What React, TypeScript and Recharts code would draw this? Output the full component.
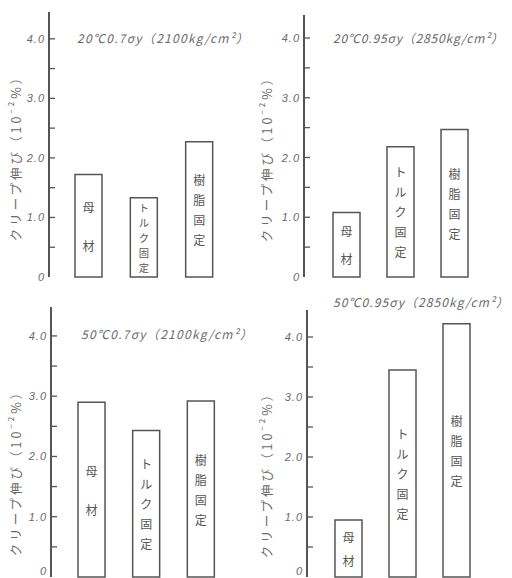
import { BarChart, Bar, XAxis, YAxis, LabelList, Customized } from "recharts";

// creep elongation (10^-2 %) per fixing method
const categories = ["母材", "トルク固定", "樹脂固定"];
const creep20c070 = [1.72, 1.33, 2.27];
const creep20c095 = [1.08, 2.18, 2.47];
const creep50c070 = [2.9, 2.43, 2.92];
const creep50c095 = [0.95, 3.45, 4.22];

const yTicks = [0, 0.5, 1, 1.5, 2, 2.5, 3, 3.5, 4];
const yTickLabels: Record<number, string> = { 0: "0", 1: "1.0", 2: "2.0", 3: "3.0", 4: "4.0" };

const titles = [
  "20℃0.7σy（2100kg/cm²）",
  "20℃0.95σy（2850kg/cm²）",
  "50℃0.7σy（2100kg/cm²）",
  "50℃0.95σy（2850kg/cm²）",
];
const yLabelMain = "クリープ伸び（10";
const yLabelSup = "−2";
const yLabelTail = "%）";

const INK = "#555";
const TEXT = "#6a6a6a";
const JP = "'Noto Sans CJK JP', 'Noto Sans', sans-serif";

const panels = [
  {
    values: creep20c070, title: titles[0],
    left: 0, top: 0, width: 256, height: 290,
    margin: { top: 12, right: 28, left: 0, bottom: 13 }, yWidth: 49, yMax: 4.45,
    pad: { left: 12, right: 1 },
    titleX: 77, titleY: 43, titleW: 171, labelX: 15, labelY: 155,
  },
  {
    values: creep20c095, title: titles[1],
    left: 256, top: 0, width: 256, height: 290,
    margin: { top: 15, right: 18, left: 0, bottom: 13 }, yWidth: 48, yMax: 4.385,
    pad: { left: 15, right: 13 },
    titleX: 77, titleY: 43, titleW: 170, labelX: 10, labelY: 156,
  },
  {
    values: creep50c070, title: titles[2],
    left: 0, top: 290, width: 256, height: 288,
    margin: { top: 17, right: 27, left: 0, bottom: 1 }, yWidth: 51, yMax: 4.48,
    pad: { left: 13, right: 1 },
    titleX: 81, titleY: 49, titleW: 171, labelX: 15, labelY: 180,
  },
  {
    values: creep50c095, title: titles[3],
    left: 256, top: 290, width: 256, height: 288,
    margin: { top: 20, right: 18, left: 0, bottom: 1 }, yWidth: 51, yMax: 4.45,
    pad: { left: 14, right: 11 },
    titleX: 77, titleY: 17, titleW: 175, labelX: 10, labelY: 182,
  },
];

function makeTick(chartHeight: number) {
  return function YTick(props: any) {
    const { x, y, payload } = props;
    const label = yTickLabels[payload.value];
    // keep the "0" inside the picture on the lower panels
    const ty = Math.min(y, chartHeight - 7);
    return (
      <g>
        {payload.value !== 0 && <line x1={x} x2={x + 6} y1={y} y2={y} stroke={INK} strokeWidth={1.3} />}
        {label && (
          <text x={x - 4} y={ty} textAnchor="end" dominantBaseline="central" fontSize={11}
            fontStyle="italic" fontFamily="'Liberation Sans', sans-serif" fill={TEXT} letterSpacing={1}>
            {label}
          </text>
        )}
      </g>
    );
  };
}

function StackedLabel(props: any) {
  const { x, y, width, height, value } = props;
  const chars = Array.from(String(value));
  const n = chars.length;
  const gap = Math.min(n === 2 ? 39 : 20, height / (n + 0.3));
  const size = Math.min(12, gap / 1.45);
  const cx = x + width / 2;
  const cy = y + height / 2;
  return (
    <g>
      {chars.map((c, i) => (
        <text key={i} x={cx} y={cy + (i - (n - 1) / 2) * gap} textAnchor="middle"
          dominantBaseline="central" fontSize={size} fontFamily={JP} fill={INK}>
          {c}
        </text>
      ))}
    </g>
  );
}

function Panel({ p }: { p: (typeof panels)[number] }) {
  const data = categories.map((name, i) => ({ name, value: p.values[i] }));
  return (
    <div style={{ position: "absolute", left: p.left, top: p.top }}>
      <BarChart width={p.width} height={p.height} data={data} margin={p.margin}>
        <XAxis dataKey="name" height={0} tick={false} tickLine={false} padding={p.pad}
          axisLine={{ stroke: INK, strokeWidth: 1.5 }} />
        <YAxis width={p.yWidth} domain={[0, p.yMax]} ticks={yTicks} tick={makeTick(p.height)}
          tickLine={false} tickSize={0} tickMargin={0} interval={0}
          axisLine={{ stroke: INK, strokeWidth: 2 }} />
        <Bar dataKey="value" barSize={27} fill="#fff" stroke={INK} strokeWidth={1.5}
          isAnimationActive={false}>
          <LabelList dataKey="name" content={StackedLabel} />
        </Bar>
        <Customized
          component={() => (
            <g>
              <text x={p.titleX} y={p.titleY} textLength={p.titleW} lengthAdjust="spacing"
                fontSize={12} fontStyle="italic" fontFamily={JP} fill={TEXT}>
                {p.title}
              </text>
              <text transform={`translate(${p.labelX},${p.labelY}) rotate(-90)`} textAnchor="middle"
                dominantBaseline="central" fontSize={12.5} fontFamily={JP} fill={TEXT} letterSpacing={3}>
                {yLabelMain}
                <tspan fontSize={8} dy={-5}>{yLabelSup}</tspan>
                <tspan dy={5}>{yLabelTail}</tspan>
              </text>
            </g>
          )}
        />
      </BarChart>
    </div>
  );
}

export default function App() {
  return (
    <div style={{ position: "absolute", left: 0, top: 0, width: 512, height: 578, background: "#fff", overflow: "hidden" }}>
      {panels.map((p, i) => (
        <Panel key={i} p={p} />
      ))}
    </div>
  );
}
